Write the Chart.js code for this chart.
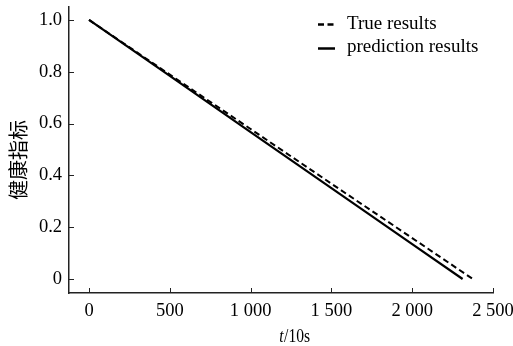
<!DOCTYPE html>
<html>
<head>
<meta charset="utf-8">
<script src="https://cdn.jsdelivr.net/npm/chart.js@4.4.0/dist/chart.umd.min.js"></script>
<style>
  html, body { margin: 0; padding: 0; background: #fff; }
</style>
</head>
<body>
<canvas id="chart" width="513" height="346"></canvas>
<script>
/* ── Data ──────────────────────────────────────────────────────────────── */

var seriesNames = ['True results', 'prediction results'];

var trueT = [0, 500, 1000, 1500, 2000, 2375];
var trueH = [1.0, 0.789, 0.579, 0.368, 0.158, 0.0];

var predT = [0, 500, 1000, 1500, 2000, 2312];
var predH = [1.0, 0.784, 0.567, 0.351, 0.135, 0.0];

var xTicks = [0, 500, 1000, 1500, 2000, 2500];
var yTicks = [0, 0.2, 0.4, 0.6, 0.8, 1.0];

var yTitle = '健康指标';

/* ── Helpers ───────────────────────────────────────────────────────────── */

var SERIF = '"Liberation Serif", "Times New Roman", serif';

function toPoints(xs, ys) {
  return xs.map(function (x, i) { return { x: x, y: ys[i] }; });
}

function fmtThousands(v) {
  return String(v).replace(/\B(?=(\d{3})+(?!\d))/g, ' ');
}

/* ── Extra drawing: inward ticks, titles, legend ───────────────────────── */

var decorations = {
  id: 'decorations',
  afterDraw: function (chart) {
    var ctx = chart.ctx;
    var area = chart.chartArea;
    var xs = chart.scales.x;
    var ys = chart.scales.y;

    ctx.save();
    ctx.strokeStyle = '#222';
    ctx.lineWidth = 1;
    ctx.beginPath();
    xs.ticks.forEach(function (t) {
      var px = Math.round(xs.getPixelForValue(t.value)) + 0.5;
      ctx.moveTo(px, area.bottom);
      ctx.lineTo(px, area.bottom - 5);
    });
    ys.ticks.forEach(function (t) {
      var py = Math.round(ys.getPixelForValue(t.value)) + 0.5;
      ctx.moveTo(area.left, py);
      ctx.lineTo(area.left + 5, py);
    });
    ctx.stroke();

    // x title: italic t + "/10s" (glyphs a little condensed, as in the source)
    ctx.fillStyle = '#000';
    ctx.textBaseline = 'alphabetic';
    var fItal = 'italic 19px ' + SERIF;
    var fReg  = '19px ' + SERIF;
    ctx.font = fItal;
    var w1 = ctx.measureText('t').width;
    ctx.font = fReg;
    var w2 = ctx.measureText('/10s').width;
    var sx = 0.82;
    ctx.save();
    ctx.translate(294.5 - (w1 + w2) * sx / 2, 342);
    ctx.scale(sx, 1);
    ctx.font = fItal;
    ctx.fillText('t', 0, 0);
    ctx.font = fReg;
    ctx.fillText('/10s', w1 + 0.5, 0);
    ctx.restore();

    // y title, rotated
    ctx.save();
    ctx.translate(18, 160);
    ctx.rotate(-Math.PI / 2);
    ctx.font = '20px "Noto Sans CJK SC", sans-serif';
    ctx.textAlign = 'center';
    ctx.textBaseline = 'middle';
    ctx.fillText(yTitle, 0, 0);
    ctx.restore();

    // legend
    var rows = [{ y: 24.5, base: 29 }, { y: 48.5, base: 52 }];
    chart.data.datasets.forEach(function (ds, i) {
      ctx.save();
      ctx.strokeStyle = ds.borderColor;
      ctx.lineWidth = 2.5;
      ctx.setLineDash(ds.borderDash || []);
      ctx.beginPath();
      ctx.moveTo(318, rows[i].y);
      ctx.lineTo(335, rows[i].y);
      ctx.stroke();
      ctx.restore();
      ctx.font = '19px ' + SERIF;
      ctx.fillStyle = '#000';
      ctx.textAlign = 'left';
      ctx.textBaseline = 'alphabetic';
      ctx.fillText(ds.label, 347, rows[i].base);
    });

    ctx.restore();
  }
};

/* ── Chart ─────────────────────────────────────────────────────────────── */

new Chart(document.getElementById('chart'), {
  type: 'line',
  data: {
    datasets: [
      {
        label: seriesNames[0],
        data: toPoints(trueT, trueH),
        borderColor: '#000',
        borderWidth: 2,
        borderDash: [6, 3.5],
        pointRadius: 0,
        tension: 0,
      },
      {
        label: seriesNames[1],
        data: toPoints(predT, predH),
        borderColor: '#000',
        borderWidth: 2.2,
        pointRadius: 0,
        tension: 0,
      },
    ],
  },
  options: {
    responsive: false,
    animation: false,
    devicePixelRatio: 1,
    layout: { padding: { top: 7, right: 20, left: 0, bottom: 0 } },
    plugins: {
      legend: { display: false },
      tooltip: { enabled: false },
    },
    scales: {
      x: {
        type: 'linear',
        min: -124,
        max: 2500,
        grid: { display: false, drawTicks: false },
        border: { display: true, color: '#222', width: 1.5 },
        afterBuildTicks: function (scale) {
          scale.ticks = xTicks.map(function (v) { return { value: v }; });
        },
        afterFit: function (scale) {
          scale.height = 53;
          scale.paddingLeft = 0;
          scale.paddingRight = 0;
        },
        ticks: {
          padding: 7,
          maxRotation: 0,
          color: '#000',
          font: { family: SERIF, size: 18.5 },
          callback: function (v) { return fmtThousands(v); },
        },
      },
      y: {
        type: 'linear',
        min: -0.054,
        max: 1.05,
        grid: { display: false, drawTicks: false },
        border: { display: true, color: '#222', width: 1.5 },
        afterBuildTicks: function (scale) {
          scale.ticks = yTicks.map(function (v) { return { value: v }; });
        },
        afterFit: function (scale) {
          scale.width = 69;
          scale.paddingTop = 0;
          scale.paddingBottom = 0;
        },
        ticks: {
          padding: 7,
          color: '#000',
          font: { family: SERIF, size: 18.5 },
          callback: function (v) { return v === 0 ? '0' : v.toFixed(1); },
        },
      },
    },
  },
  plugins: [decorations],
});
</script>
</body>
</html>
